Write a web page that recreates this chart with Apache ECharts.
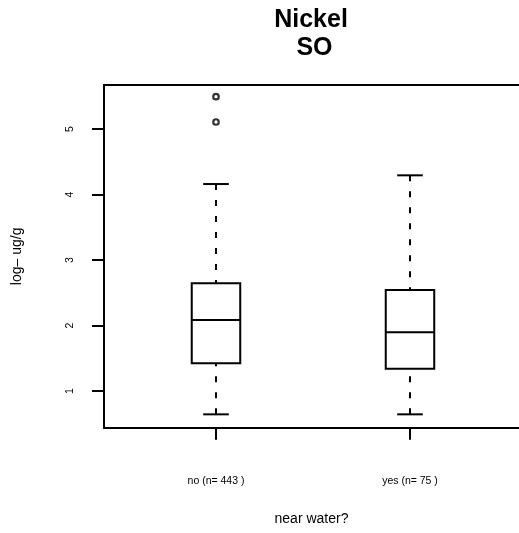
<!DOCTYPE html>
<html>
<head>
<meta charset="utf-8">
<script src="https://cdn.jsdelivr.net/npm/echarts@6/dist/echarts.min.js"></script>
<style>html,body{margin:0;padding:0;background:#fff;}#c{width:519px;height:533px;}</style>
</head>
<body>
<div id="c"></div>
<script>
// ---- data ----
var categories = ['no (n= 443 )', 'yes (n= 75 )'];
var lowWhisker  = [0.644, 0.644];
var q1          = [1.423, 1.340];
var median      = [2.084, 1.896];
var q3          = [2.644, 2.542];
var highWhisker = [4.160, 4.293];
var outlierGroup = [1, 1];
var outlierValue = [5.493, 5.107];
var yTicks = [1, 2, 3, 4, 5];
var xTicks = [1, 2];
var titleText = 'Nickel\n SO';
var yTitle = 'log\u2013 ug/g';
var xTitle = 'near water?';

var FONT = 'Liberation Sans, Arial, Helvetica, sans-serif';
var boxData = categories.map(function (c, i) {
  return [i + 1, lowWhisker[i], q1[i], median[i], q3[i], highWhisker[i]];
});
var outData = outlierGroup.map(function (g, i) { return [g, outlierValue[i]]; });

var chart = echarts.init(document.getElementById('c'), null, {renderer: 'canvas'});
var BOXW = 0.25, CAPW = 0.132;
var XMIN = 0.4227, XMAX = 2.5619;
var frameLine = {show: true, lineStyle: {color: '#000', width: 2}};
chart.setOption({
  animation: false,
  backgroundColor: '#fff',
  graphic: [{
    type: 'text', x: 311, y: 6,
    style: {text: titleText, font: 'bold 25px ' + FONT, fill: '#000', align: 'center', verticalAlign: 'top', lineHeight: 28}
  }],
  grid: {left: 104, top: 85, right: 0, bottom: 105.3, show: false},
  xAxis: [{
    type: 'value', min: XMIN, max: XMAX, position: 'bottom',
    splitLine: {show: false}, axisLine: frameLine,
    axisTick: {show: true, customValues: xTicks, length: 12, lineStyle: {color: '#000', width: 2}},
    axisLabel: {customValues: xTicks, margin: 48, fontSize: 10.5, fontFamily: FONT, color: '#000',
      formatter: function (v) { return categories[Math.round(v) - 1] || ''; }},
    name: xTitle, nameLocation: 'middle', nameGap: 84,
    nameTextStyle: {fontSize: 14, fontFamily: FONT, color: '#000'}
  }, {
    type: 'value', min: XMIN, max: XMAX, position: 'top',
    splitLine: {show: false}, axisLine: frameLine,
    axisTick: {show: false}, axisLabel: {show: false}
  }],
  yAxis: {
    type: 'value', min: 0.44, max: 5.672,
    splitLine: {show: false}, axisLine: frameLine,
    axisTick: {show: true, customValues: yTicks, length: 12, lineStyle: {color: '#000', width: 2}},
    axisLabel: {customValues: yTicks, rotate: 90, margin: 28, fontSize: 10.5, fontFamily: FONT, color: '#000'},
    name: yTitle, nameLocation: 'middle', nameGap: 80,
    nameTextStyle: {fontSize: 14, fontFamily: FONT, color: '#000'}
  },
  series: [{
    type: 'custom',
    xAxisIndex: 0,
    data: boxData,
    encode: {x: 0, y: [1, 2, 3, 4, 5]},
    renderItem: function (params, api) {
      var x = api.value(0);
      var pLow = api.coord([x, api.value(1)]);
      var pQ1 = api.coord([x, api.value(2)]);
      var pMed = api.coord([x, api.value(3)]);
      var pQ3 = api.coord([x, api.value(4)]);
      var pHigh = api.coord([x, api.value(5)]);
      var hw = api.size([BOXW, 0])[0] / 2;
      var cw = api.size([CAPW, 0])[0] / 2;
      var cx = pMed[0];
      var solid = {stroke: '#000', lineWidth: 2, fill: null};
      var dashed = {stroke: '#000', lineWidth: 2, lineDash: [6, 10], fill: null};
      return {
        type: 'group',
        children: [
          {type: 'line', shape: {x1: cx, y1: pHigh[1], x2: cx, y2: pQ3[1]}, style: dashed},
          {type: 'line', shape: {x1: cx, y1: pLow[1], x2: cx, y2: pQ1[1]}, style: dashed},
          {type: 'line', shape: {x1: cx - cw, y1: pHigh[1], x2: cx + cw, y2: pHigh[1]}, style: solid},
          {type: 'line', shape: {x1: cx - cw, y1: pLow[1], x2: cx + cw, y2: pLow[1]}, style: solid},
          {type: 'rect', shape: {x: cx - hw, y: pQ3[1], width: 2 * hw, height: pQ1[1] - pQ3[1]}, style: {stroke: '#000', lineWidth: 2, fill: '#fff'}},
          {type: 'line', shape: {x1: cx - hw, y1: pMed[1], x2: cx + hw, y2: pMed[1]}, style: solid}
        ]
      };
    }
  }, {
    type: 'scatter',
    xAxisIndex: 0,
    data: outData,
    symbol: 'circle',
    symbolSize: 5.5,
    itemStyle: {color: '#fff', borderColor: '#000', borderWidth: 2.2}
  }]
});
</script>
</body>
</html>
